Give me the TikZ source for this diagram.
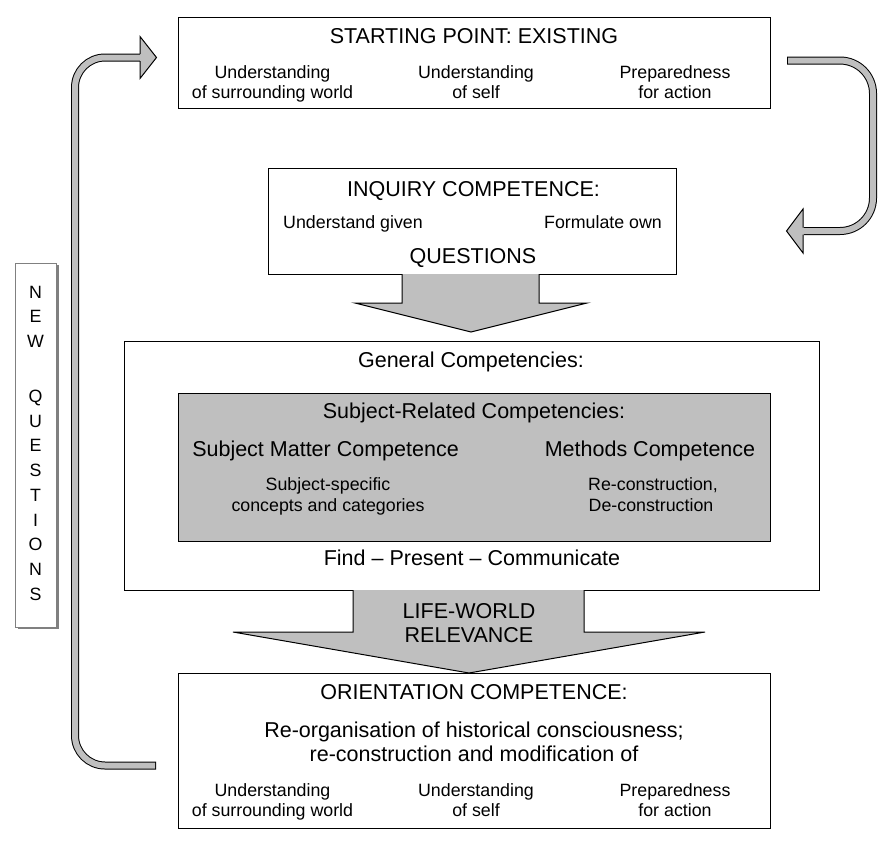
\documentclass[tikz,border=0pt]{standalone}
\usepackage{fontspec}
\setmainfont{Liberation Sans}
\begin{document}
\begin{tikzpicture}[x=1pt,y=-1pt,
  box/.style={draw=black, line width=1.2pt, fill=white, inner sep=0pt, anchor=north west},
  big/.style={font=\fontsize{21.5}{25}\selectfont, inner sep=0pt, text height=15.4pt, text depth=0pt},
  small/.style={font=\fontsize{17.8}{21}\selectfont, inner sep=0pt, text height=12.7pt, text depth=0pt},
  blk/.style={draw=black, line width=1pt, fill=gray!50, line join=miter},
  band/.style={line width=8pt, draw=black, rounded corners=#1},
  bandin/.style={line width=6pt, draw=gray!50, rounded corners=#1},
  headfill/.style={fill=gray!50},
  headline/.style={draw=black, line width=1pt, line join=miter}]
\useasboundingbox[fill=white] (0,0) rectangle (896,854);

% ---------- bent arrows ----------
\draw[band=30pt] (156,765.5) -- (75,765.5) -- (75,57.5) -- (140.5,57.5);
\draw[bandin=30pt] (155,765.5) -- (75,765.5) -- (75,57.5) -- (142,57.5);
\fill[headfill] (140,36.5) -- (156.5,57.5) -- (140,78.5) -- cycle;
\draw[headline] (140,54) -- (140,36.5) -- (156.5,57.5) -- (140,78.5) -- (140,61);

\draw[band=33pt] (787,60.5) -- (873,60.5) -- (873,231) -- (803.5,231);
\draw[bandin=33pt] (788,60.5) -- (873,60.5) -- (873,231) -- (802,231);
\fill[headfill] (803,209) -- (786.5,231) -- (803,253) -- cycle;
\draw[headline] (803,227.5) -- (803,209) -- (786.5,231) -- (803,253) -- (803,234.5);

% ---------- boxes ----------
\node[box, minimum width=592pt, minimum height=91pt] (start) at (178,17) {};
\node[box, minimum width=408pt, minimum height=106pt] (inq) at (268,168) {};
\node[box, minimum width=695pt, minimum height=249pt] (gen) at (124,341) {};
\node[box, fill=gray!50, minimum width=592pt, minimum height=148pt] (subj) at (178,393) {};
\node[box, minimum width=592pt, minimum height=155pt] (orient) at (178,673) {};

% ---------- block arrows ----------
\draw[blk] (402,274) -- (402,303) -- (355,303) -- (471,332) -- (587,303) -- (539,303) -- (539,274);
\draw[blk] (353,590) -- (353,632) -- (233,632) -- (469,673) -- (705,632) -- (584,632) -- (584,590);
\node[big] (lw1) at (469,611) {LIFE-WORLD};
\node[big] (lw2) at (469,635) {RELEVANCE};

% ---------- NEW QUESTIONS ----------
\fill[gray] (18,264.5) rectangle (59,628.5);
\node[draw=gray, line width=1pt, fill=white, inner sep=0pt, anchor=north west,
  minimum width=41pt, minimum height=364pt] (nq) at (15,263) {};
\foreach \l/\yy [count=\i] in {N/292, E/316.5, W/341, Q/396, U/420.75, E/445.5, S/470.25, T/495, I/519.75, O/544.5, N/569.25, S/594}
  \node[small] (nq\i) at (35.5,\yy) {\l};

% ---------- texts: start ----------
\node[big] (st) at (474,36) {STARTING POINT: EXISTING};
\node[small] (s1a) at (272.5,72) {Understanding};
\node[small] (s1b) at (272.5,92) {of surrounding world};
\node[small] (s2a) at (476,72) {Understanding};
\node[small] (s2b) at (476,92) {of self};
\node[small] (s3a) at (675,72) {Preparedness};
\node[small] (s3b) at (675,92) {for action};

% ---------- texts: inquiry ----------
\node[big] (it) at (473.5,189) {INQUIRY COMPETENCE:};
\node[small] (i1) at (353,222) {Understand given};
\node[small] (i2) at (603,222) {Formulate own};
\node[big] (iq) at (473,256) {QUESTIONS};

% ---------- texts: general ----------
\node[big] (gt) at (471,360) {General Competencies:};
\node[big] (sr) at (474,411) {Subject-Related Competencies:};
\node[big] (sm) at (325.5,449) {Subject Matter Competence};
\node[big] (mc) at (650,449) {Methods Competence};
\node[small] (sm1) at (328,484) {Subject-specific};
\node[small] (sm2) at (328,505) {concepts and categories};
\node[small] (mc1) at (653,484) {Re-construction,};
\node[small] (mc2) at (651,505) {De-construction};
\node[big] (fp) at (472,558) {Find -- Present -- Communicate};

% ---------- texts: orientation ----------
\node[big] (ot) at (474,692) {ORIENTATION COMPETENCE:};
\node[big] (o1) at (474,730) {Re-organisation of historical consciousness;};
\node[big] (o2) at (474,754) {re-construction and modification of};
\node[small] (o3a) at (272.5,790) {Understanding};
\node[small] (o3b) at (272.5,810) {of surrounding world};
\node[small] (o4a) at (476,790) {Understanding};
\node[small] (o4b) at (476,810) {of self};
\node[small] (o5a) at (675,790) {Preparedness};
\node[small] (o5b) at (675,810) {for action};
\end{tikzpicture}
\end{document}
